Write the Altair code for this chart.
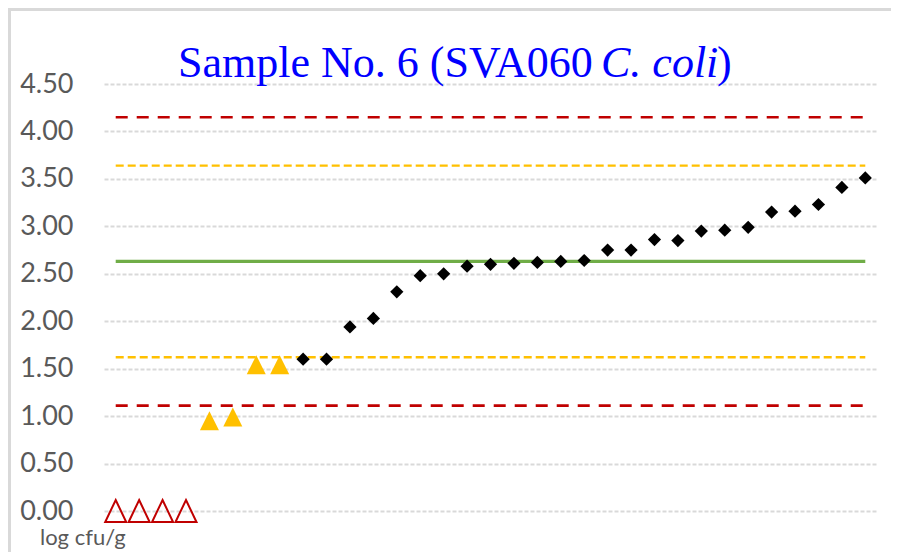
import altair as alt
import pandas as pd

# ---- data ----
values = [0.00, 0.00, 0.00, 0.00,
          0.95, 0.99, 1.54, 1.54,
          1.60, 1.60, 1.94, 2.03, 2.31, 2.48, 2.50, 2.58, 2.60, 2.61,
          2.62, 2.63, 2.64, 2.75, 2.75, 2.86, 2.85, 2.95, 2.96, 2.99,
          3.15, 3.16, 3.23, 3.41, 3.51]
kinds = ["below"] * 4 + ["outlier"] * 4 + ["result"] * 25

limit_names = ["lower action", "lower warning", "assigned", "upper warning", "upper action"]
limit_values = [1.11, 1.62, 2.63, 3.64, 4.15]

y_ticks = [0, 0.5, 1.0, 1.5, 2.0, 2.5, 3.0, 3.5, 4.0, 4.5]

title_plain = "Sample No. 6 (SVA060 "
title_italic = "C. coli"
title_close = ")"
unit_label = "log cfu/g"

# ---- tables ----
pts = pd.DataFrame({"idx": list(range(len(values))), "value": values, "kind": kinds})
lims = pd.DataFrame({"name": limit_names, "value": limit_values,
                     "start": [0] * len(limit_values),
                     "end": [len(values) - 1] * len(limit_values)})

W, H = 773, 427
xscale = alt.Scale(domain=[-0.5, len(values) - 0.5], nice=False, zero=False)
yscale = alt.Scale(domain=[0, 4.5], nice=False)

yaxis = alt.Axis(values=y_ticks, format=".2f", title=None, domain=False,
                 ticks=False, labelPadding=31, labelFont="Lato",
                 labelFontSize=27, labelColor="#595959",
                 gridColor="#d9d9d9", gridDash=[4, 2], gridWidth=2)

x_pt = alt.X("idx:Q", scale=xscale, axis=None)
y_enc = alt.Y("value:Q", scale=yscale, axis=yaxis)

base = alt.Chart(pts)


def limit_rule(name, color, width, dash=None):
    kw = dict(color=color, strokeWidth=width)
    if dash is not None:
        kw["strokeDash"] = dash
    return alt.Chart(lims).transform_filter(alt.datum.name == name).mark_rule(**kw).encode(
        x=alt.X("start:Q", scale=xscale, axis=None),
        x2="end:Q",
        y=y_enc)


red_lo = limit_rule("lower action", "#C00000", 2.6, [12, 9])
red_hi = limit_rule("upper action", "#C00000", 2.6, [12, 9])
org_lo = limit_rule("lower warning", "#FFC000", 2.4, [8, 4])
org_hi = limit_rule("upper warning", "#FFC000", 2.4, [8, 4])
green = limit_rule("assigned", "#70AD47", 3.2)

below = base.transform_filter(alt.datum.kind == "below").mark_point(
    shape="M0,-1.05L1,1.05L-1,1.05Z", filled=False, color="#C00000",
    strokeWidth=2, size=441, opacity=1).encode(x=x_pt, y=y_enc)

outl = base.transform_filter(alt.datum.kind == "outlier").mark_point(
    shape="M0,-1L1,1L-1,1Z", filled=True, color="#FFC000",
    size=361, opacity=1).encode(x=x_pt, y=y_enc)

res = base.transform_filter(alt.datum.kind == "result").mark_point(
    shape="diamond", filled=True, color="#000000",
    size=175, opacity=1).encode(x=x_pt, y=y_enc)


def text_layer(txt, x, y, **kw):
    return alt.Chart(pd.DataFrame({"t": [txt]})).mark_text(
        align="left", baseline="alphabetic", **kw).encode(
        text="t:N", x=alt.value(x), y=alt.value(y))


t1 = text_layer(title_plain, 74, -7, font="Liberation Serif", fontSize=44, color="#0000FF")
t2 = text_layer(title_italic, 497, -7, font="Liberation Serif", fontSize=44,
                fontStyle="italic", color="#0000FF")
t3 = text_layer(title_close, 613, -7, font="Liberation Serif", fontSize=44, color="#0000FF")
unit = text_layer(unit_label, -64, 461, font="Lato", fontSize=22, color="#595959")

frame = alt.Chart(pd.DataFrame({"t": [""]})).mark_rect(
    fill=None, stroke="#d9d9d9", strokeWidth=3).encode(
    x=alt.value(-94.5), x2=alt.value(800), y=alt.value(-74.5), y2=alt.value(480))

chart = alt.layer(frame, red_lo, red_hi, org_lo, org_hi, green,
                  below, outl, res, t1, t2, t3, unit).properties(
    width=W, height=H,
    padding={"left": 96, "top": 76, "right": 14, "bottom": 41},
    autosize=alt.AutoSizeParams(type="none"),
    background="white",
).configure_view(stroke=None)

chart.save("out.html", embed_options={"renderer": "svg", "actions": False})
